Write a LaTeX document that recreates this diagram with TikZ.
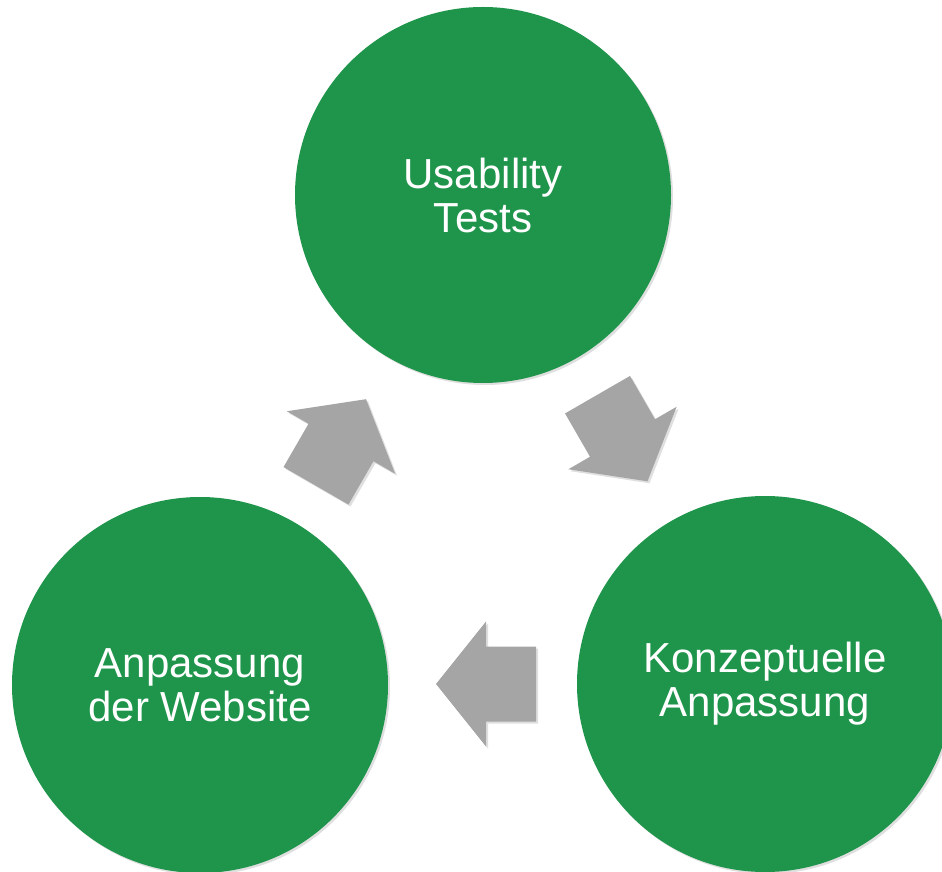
\documentclass[tikz,border=0pt]{standalone}
\usepackage{fontspec}
\setmainfont{Liberation Sans}
\usetikzlibrary{shadows}
\definecolor{stagegreen}{RGB}{30,149,75}
\definecolor{arrowgrey}{RGB}{165,165,165}
\begin{document}
\begin{tikzpicture}[x=1pt,y=1pt,line join=miter]
	\tikzset{stage/.style={circle,fill=stagegreen,text=white,minimum size=376pt,inner sep=0pt,align=center,font=\fontsize{42}{44}\selectfont,drop shadow={opacity=.25,shadow xshift=2pt,shadow yshift=-2pt}},
	blockarrow/.pic={\fill[arrowgrey,drop shadow={opacity=.25,shadow xshift=2pt,shadow yshift=-2pt}] (-50,-37.5)--(0,-37.5)--(0,-62.5)--(50,0)--(0,62.5)--(0,37.5)--(-50,37.5)--cycle;}}
	\clip (0,0) rectangle (942,871);
	\node[stage] (tests) at (483,676) {Usability\\Tests};
	\node[stage] (konzept) at (765,187) {Konzeptuelle\\Anpassung};
	\node[stage] (website) at (200,186) {Anpassung\\der Website};
	\pic[rotate=-60] at (622.5,433) {blockarrow};
	\pic[rotate=180] at (486,187) {blockarrow};
	\pic[rotate=60] at (341,428.5) {blockarrow};
\end{tikzpicture}
\end{document}
